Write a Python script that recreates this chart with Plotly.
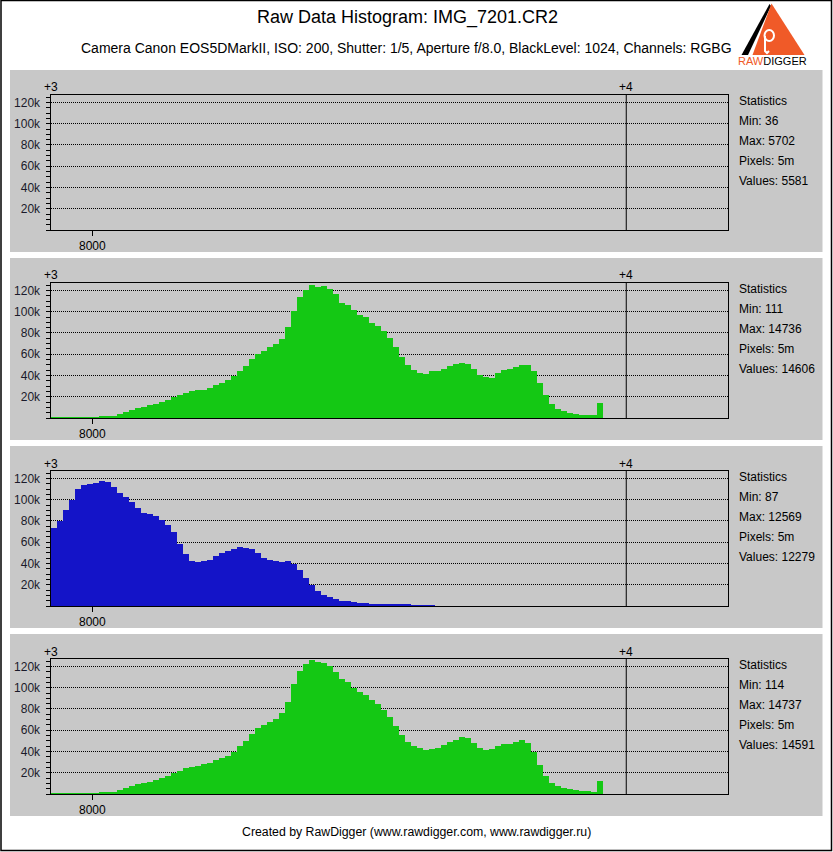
import plotly.graph_objects as go

W, H = 833, 852

# ---------------- data ----------------
TITLE = "Raw Data Histogram: IMG_7201.CR2"
SUBTITLE = ("Camera Canon EOS5DMarkII, ISO: 200, Shutter: 1/5, Aperture f/8.0, "
            "BlackLevel: 1024, Channels: RGBG")
FOOTER = "Created by RawDigger (www.rawdigger.com, www.rawdigger.ru)"

CHANNELS = ["R", "G", "B", "G2"]
STAT_MIN = [36, 111, 87, 114]
STAT_MAX = [5702, 14736, 12569, 14737]
STAT_PIXELS = ["5m", "5m", "5m", "5m"]
STAT_VALUES = [5581, 14606, 12279, 14591]

# raw value at the "+3" EV mark (left edge); "+4" is twice that
EV3_VALUE = 7458
EV4_VALUE = 2 * EV3_VALUE
X_MAX_VALUE = 16234
BIN_START = 7461
BIN_WIDTH = 77.7

X_TICK_VALUES = [8000]
X_TICK_TEXT = ["8000"]
Y_TICK_VALUES = [20000, 40000, 60000, 80000, 100000, 120000]
Y_TICK_TEXT = ["20k", "40k", "60k", "80k", "100k", "120k"]
Y_MAX_VALUE = 127000

# Red channel: all values (max 5702) fall below the displayed range
RED_COUNTS = []

GREEN_COUNTS = [
    800, 800, 800, 800, 800, 800, 800, 800, 1600, 1600,
    2200, 4100, 6000, 7900, 9800, 10700, 12600, 13600, 15500, 17400,
    20200, 22100, 23100, 25000, 25900, 25900, 27800, 30700, 32500, 35400,
    39200, 43900, 48700, 55300, 60000, 62900, 66700, 69500, 74300, 85600,
    100800, 114000, 120700, 125500, 123600, 124500, 121700, 116900, 108400, 106500,
    101800, 97000, 95100, 89400, 86600, 81800, 75200, 66700, 57200, 49600,
    44900, 42000, 41100, 43900, 43900, 45800, 48700, 50600, 51500, 50600,
    45800, 40100, 38200, 37300, 42000, 44900, 45800, 47700, 49600, 49600,
    43900, 32500, 22100, 13600, 8800, 7000, 5100, 4100, 3200, 3200,
    3200, 14500,
]

BLUE_COUNTS = [
    73300, 79900, 90400, 99900, 110300, 114100, 115000, 116000, 117900, 116900,
    112200, 106500, 102700, 98000, 92300, 87500, 86600, 84700, 80900, 76200,
    69500, 58100, 48700, 42000, 41100, 42000, 43000, 46800, 49600, 51500,
    53400, 55300, 54400, 53400, 49600, 44900, 43000, 42000, 41100, 42000,
    39200, 33500, 25900, 19300, 14500, 10700, 8800, 7000, 5100, 5100,
    4100, 3200, 3200, 2200, 2200, 2200, 1300, 1300, 1300, 1300,
    600, 600, 600, 600,
]

GREEN2_COUNTS = [
    800, 800, 800, 800, 800, 800, 800, 800, 1600, 1600,
    2200, 4100, 6000, 7900, 9800, 10700, 11700, 13600, 15500, 17400,
    20200, 22100, 24000, 25000, 25900, 27800, 28800, 31600, 33500, 35400,
    39200, 44900, 49600, 56200, 61900, 64800, 67600, 70500, 76200, 86600,
    103600, 116000, 122600, 126400, 124500, 123600, 120700, 115000, 108400, 105500,
    99900, 96100, 93200, 88500, 84700, 79000, 72400, 63800, 55300, 48700,
    44900, 43000, 41100, 42000, 43000, 45800, 48700, 50600, 53400, 52500,
    47700, 43000, 41100, 42000, 44900, 46800, 46800, 48700, 50600, 47700,
    39200, 26900, 17400, 10700, 7900, 6000, 5100, 4100, 3200, 3200,
    2200, 12600,
]

SERIES = [RED_COUNTS, GREEN_COUNTS, BLUE_COUNTS, GREEN2_COUNTS]
COLORS = ["#d01414", "#14c814", "#1414c8", "#14c814"]

# ---------------- layout helpers ----------------
def pxx(x):
    return x / W


def pxy(y):
    return 1 - y / H


FONT = "Liberation Sans, Arial, sans-serif"
GREY = "#c8c8c8"
PANEL_STEP = 188

fig = go.Figure()
shapes = []
annotations = []

# outer border
shapes.append(dict(type="rect", xref="paper", yref="paper",
                   x0=pxx(1), x1=pxx(831.5), y0=pxy(850.5), y1=pxy(0.5),
                   line=dict(color="black", width=1.5), fillcolor="rgba(0,0,0,0)",
                   layer="above"))

layout_axes = {}
for k in range(4):
    n = k + 1
    xa = "x" if n == 1 else f"x{n}"
    ya = "y" if n == 1 else f"y{n}"
    off = PANEL_STEP * k
    # grey panel
    shapes.append(dict(type="rect", xref="paper", yref="paper",
                       x0=pxx(10), x1=pxx(822.5), y0=pxy(252 + off), y1=pxy(70 + off),
                       fillcolor=GREY, line=dict(width=0), layer="below"))
    top, bottom = 95 + off, 230 + off
    counts = SERIES[k]
    xs = [BIN_START + (i + 0.5) * BIN_WIDTH for i in range(len(counts))]
    fig.add_trace(go.Bar(x=xs, y=counts, width=BIN_WIDTH, xaxis=xa, yaxis=ya,
                         marker=dict(color=COLORS[k], line=dict(width=0)),
                         name=CHANNELS[k], showlegend=False, hoverinfo="skip"))
    layout_axes["xaxis" if n == 1 else f"xaxis{n}"] = dict(
        domain=[pxx(50.5), pxx(728)], range=[EV3_VALUE, X_MAX_VALUE],
        anchor=ya, showline=True, mirror=True, linecolor="black", linewidth=1,
        showgrid=False, zeroline=False, tickmode="array",
        tickvals=X_TICK_VALUES, ticktext=X_TICK_TEXT, ticks="outside",
        ticklen=5, tickcolor="black", tickwidth=1,
        tickfont=dict(family=FONT, size=12, color="black"), fixedrange=True)
    layout_axes["yaxis" if n == 1 else f"yaxis{n}"] = dict(
        domain=[pxy(bottom), pxy(top)], range=[0, Y_MAX_VALUE], anchor=xa,
        showline=True, mirror=True, linecolor="black", linewidth=1,
        zeroline=False, tickmode="array", tickvals=Y_TICK_VALUES,
        ticktext=Y_TICK_TEXT, ticks="outside", ticklen=4, tickcolor="black",
        tickwidth=1, ticklabelstandoff=3,
        tickfont=dict(family=FONT, size=12, color="#1a1a2a"),
        showgrid=True, gridcolor="black", gridwidth=1, griddash="1px,1px",
        minor=dict(tickmode="linear", tick0=0, dtick=5000, ticks="outside",
                   ticklen=4, tickcolor="black", tickwidth=1, showgrid=False),
        fixedrange=True)
    # +4 vertical line
    shapes.append(dict(type="line", xref=xa, yref=f"{ya} domain",
                       x0=EV4_VALUE, x1=EV4_VALUE, y0=0, y1=1,
                       line=dict(color="black", width=1)))
    # EV labels
    for val, txt in [(EV3_VALUE, "+3"), (EV4_VALUE, "+4")]:
        annotations.append(dict(x=val, xref=xa, y=pxy(87.5 + off), yref="paper",
                                text=txt, showarrow=False, xanchor="center",
                                yanchor="middle",
                                font=dict(family=FONT, size=12, color="black")))
    # statistics
    lines = ["Statistics", f"Min: {STAT_MIN[k]}", f"Max: {STAT_MAX[k]}",
             f"Pixels: {STAT_PIXELS[k]}", f"Values: {STAT_VALUES[k]}"]
    for i, t in enumerate(lines):
        annotations.append(dict(x=pxx(737), xref="paper",
                                y=pxy(100.7 + off + 20.1 * i), yref="paper",
                                text=t, showarrow=False, xanchor="left",
                                yanchor="middle",
                                font=dict(family=FONT, size=12, color="black")))

# titles
annotations.append(dict(x=pxx(407), y=pxy(18), xref="paper", yref="paper",
                        text=TITLE, showarrow=False, xanchor="center", yanchor="middle",
                        font=dict(family=FONT, size=18, color="black")))
annotations.append(dict(x=pxx(406), y=pxy(48), xref="paper", yref="paper",
                        text=SUBTITLE, showarrow=False, xanchor="center", yanchor="middle",
                        font=dict(family=FONT, size=14, color="black")))
annotations.append(dict(x=pxx(416), y=pxy(832), xref="paper", yref="paper",
                        text=FOOTER, showarrow=False, xanchor="center", yanchor="middle",
                        font=dict(family=FONT, size=12.3, color="black")))

# logo
def path(points):
    return "M " + " L ".join(f"{pxx(x)},{pxy(y)}" for x, y in points) + " Z"


shapes.append(dict(type="path", xref="paper", yref="paper",
                   path=path([(741.5, 55), (769.5, 4), (771, 6), (748, 55)]),
                   fillcolor="black", line=dict(width=0)))
shapes.append(dict(type="path", xref="paper", yref="paper",
                   path=path([(752.5, 55), (771.5, 3.5), (804.5, 55)]),
                   fillcolor="#f05a28", line=dict(width=0)))
shapes.append(dict(type="circle", xref="paper", yref="paper",
                   x0=pxx(764.5), x1=pxx(774), y0=pxy(41), y1=pxy(30),
                   line=dict(color="white", width=2), fillcolor="rgba(0,0,0,0)"))
shapes.append(dict(type="path", xref="paper", yref="paper",
                   path=f"M {pxx(765)},{pxy(36)} L {pxx(765)},{pxy(51)} "
                        f"L {pxx(767)},{pxy(53)} L {pxx(769)},{pxy(51)}",
                   line=dict(color="white", width=2)))
annotations.append(dict(x=pxx(772.5), y=pxy(61.5), xref="paper", yref="paper",
                        text="<span style='color:#f05a28'>RAW</span>DIGGER",
                        showarrow=False, xanchor="center", yanchor="middle",
                        font=dict(family=FONT, size=11, color="black")))

fig.update_layout(
    width=W, height=H, margin=dict(l=0, r=0, t=0, b=0, pad=0),
    paper_bgcolor="white", plot_bgcolor="rgba(0,0,0,0)",
    showlegend=False, bargap=0, barmode="overlay",
    shapes=shapes, annotations=annotations, **layout_axes,
)

fig.write_html("out.html", config={"displayModeBar": False},
               post_script="document.body.style.margin='0';"
                           "document.body.style.overflow='hidden';")
